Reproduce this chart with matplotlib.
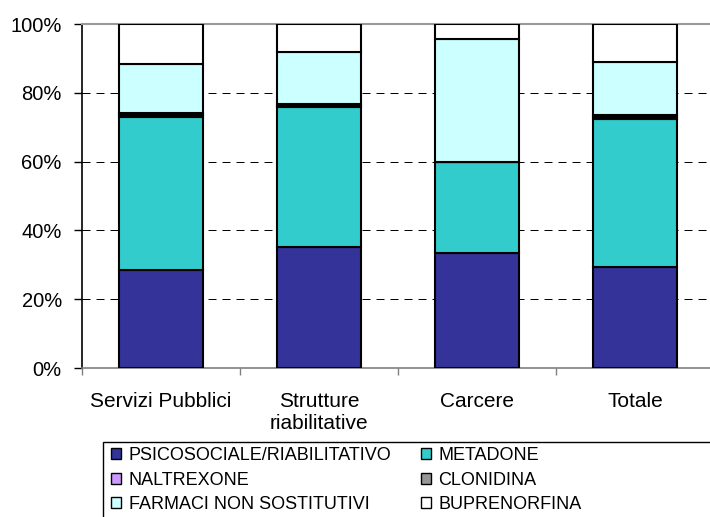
import matplotlib
matplotlib.use("Agg")
import matplotlib.pyplot as plt
from matplotlib.patches import Patch, Rectangle
import numpy as np

plt.rcParams['font.family'] = ['Liberation Sans', 'DejaVu Sans']

categories = ["Servizi Pubblici", "Strutture\nriabilitative", "Carcere", "Totale"]
series_names = ["PSICOSOCIALE/RIABILITATIVO", "METADONE", "NALTREXONE",
                "CLONIDINA", "FARMACI NON SOSTITUTIVI", "BUPRENORFINA"]
psicosociale = [28.5, 35.3, 33.5, 29.4]
metadone = [44.5, 40.5, 26.5, 43.0]
naltrexone = [0.5, 0.4, 0.0, 0.5]
clonidina = [0.6, 0.5, 0.0, 0.6]
farmaci = [14.2, 15.1, 35.7, 15.4]
buprenorfina = [11.7, 8.2, 4.3, 11.1]
y_ticks = [0, 20, 40, 60, 80, 100]
y_tick_labels = ["0%", "20%", "40%", "60%", "80%", "100%"]

colors = ["#333399", "#33CCCC", "#CC99FF", "#969696", "#CCFFFF", "#FFFFFF"]
series = [psicosociale, metadone, naltrexone, clonidina, farmaci, buprenorfina]

W, H = 710, 517
fig = plt.figure(figsize=(W / 100, H / 100), dpi=100)
ax = fig.add_axes([82 / W, 1 - 368 / H, (714 - 82) / W, (368 - 24) / H])

x = np.arange(len(categories))
bottom = np.zeros(len(categories))
for vals, col in zip(series, colors):
    ax.bar(x, vals, bottom=bottom, width=0.53, color=col, edgecolor="black",
           linewidth=1.5, zorder=3)
    bottom += np.array(vals)

ax.set_xlim(-0.5, 3.5)
ax.set_ylim(0, 100)
ax.set_yticks(y_ticks)
ax.set_yticklabels(y_tick_labels, fontsize=14.5)
ax.set_xticks(x)
ax.set_xticklabels(categories, fontsize=15)
ax.set_xticks(np.arange(-0.5, 3.6, 1.0), minor=True)
ax.tick_params(axis="x", which="major", length=0, pad=17)
ax.tick_params(axis="x", which="minor", length=5, width=1, color="#808080")
ax.tick_params(axis="y", length=6, width=1, color="black", pad=8.5)

for yv in y_ticks[1:-1]:
    ax.axhline(yv, color="black", linewidth=0.72, linestyle=(0, (8, 6)), zorder=1)

ax.spines["right"].set_visible(False)
ax.spines["top"].set_color("#999999")
ax.spines["top"].set_linewidth(1.5)
ax.spines["left"].set_color("black")
ax.spines["left"].set_linewidth(1.2)
ax.spines["bottom"].set_color("#808080")
ax.spines["bottom"].set_linewidth(1.2)

handles = [Patch(facecolor=c, edgecolor="black", linewidth=1.0) for c in colors]

leg_kw = dict(frameon=False, fontsize=13.0, handlelength=0.55, handleheight=0.55,
              handletextpad=0.42, labelspacing=0.42, borderpad=0, borderaxespad=0,
              loc="upper left")
leg1 = fig.legend([handles[0], handles[2], handles[4]],
                  [series_names[0], series_names[2], series_names[4]],
                  bbox_to_anchor=(111 / W, 1 - 447 / H), **leg_kw)
leg2 = fig.legend([handles[1], handles[3], handles[5]],
                  [series_names[1], series_names[3], series_names[5]],
                  bbox_to_anchor=(421 / W, 1 - 447 / H), **leg_kw)

fig.patches.append(Rectangle((103 / W, -0.1), 1.0, (517 - 442) / H + 0.1,
                             transform=fig.transFigure, fill=False,
                             edgecolor="black", linewidth=1.0))

fig.savefig("out.png", dpi=100)
